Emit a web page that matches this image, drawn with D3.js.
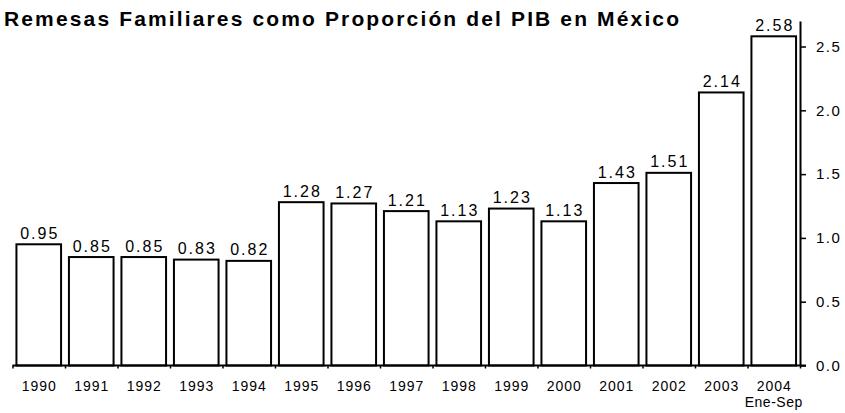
<!DOCTYPE html>
<html>
<head>
<meta charset="utf-8">
<script src="https://cdn.jsdelivr.net/npm/d3@7/dist/d3.min.js"></script>
<style>
    body { margin: 0; background: #fff; }
    svg { display: block; font-family: "Liberation Sans", Arial, sans-serif; }
</style>
</head>
<body>
<div id="chart"></div>
<script>
var years = ['1990', '1991', '1992', '1993', '1994', '1995', '1996', '1997', '1998', '1999', '2000', '2001', '2002', '2003', '2004'];
var remesas = [0.95, 0.85, 0.85, 0.83, 0.82, 1.28, 1.27, 1.21, 1.13, 1.23, 1.13, 1.43, 1.51, 2.14, 2.58];
var yTicks = [0, 0.5, 1.0, 1.5, 2.0, 2.5];
var title = 'Remesas Familiares como Proporción del PIB en México';
var lastNote = 'Ene-Sep';

var width = 845;
var height = 413;
var left = 12.5;
var right = 800;
var base = 365.5;

var svg = d3.select('#chart').append('svg')
    .attr('width', width)
    .attr('height', height);

var x = d3.scaleBand()
    .domain(years)
    .range([left, right])
    .paddingInner(0.15)
    .paddingOuter(0.075);

// category boundaries for the bottom ticks
var edge = d3.scaleLinear()
    .domain([0, years.length])
    .range([left, right]);

var y = d3.scaleLinear()
    .domain([0, 2.7])
    .range([base, 21]);

svg.append('text')
    .attr('x', 4)
    .attr('y', 26)
    .attr('font-size', 21)
    .attr('font-weight', 'bold')
    .attr('textLength', 675)
    .attr('lengthAdjust', 'spacing')
    .text(title);

svg.append('g')
    .selectAll('rect')
    .data(remesas)
    .enter().append('rect')
    .attr('x', function(d, i) { return x(years[i]); })
    .attr('y', function(d) { return y(d); })
    .attr('width', x.bandwidth())
    .attr('height', function(d) { return base - y(d); })
    .attr('fill', '#fff')
    .attr('stroke', '#000')
    .attr('stroke-width', 2);

svg.append('g')
    .selectAll('text')
    .data(remesas)
    .enter().append('text')
    .attr('x', function(d, i) { return x(years[i]) + x.bandwidth() / 2 + 1; })
    .attr('y', function(d) { return y(d) - 5.5; })
    .attr('text-anchor', 'middle')
    .attr('font-size', 16)
    .attr('letter-spacing', 2)
    .text(function(d) { return d.toFixed(2); });

var xAxis = svg.append('g')
    .attr('transform', 'translate(0,' + base + ')')
    .call(d3.axisBottom(edge).tickValues(d3.range(years.length + 1)).tickSize(3).tickFormat(''));
xAxis.select('.domain').attr('d', 'M' + left + ',0H' + (right + 6)).attr('stroke-width', 2);
xAxis.selectAll('.tick line').attr('stroke-width', 1.5);

svg.append('g')
    .selectAll('text')
    .data(years)
    .enter().append('text')
    .attr('x', function(d) { return x(d) + x.bandwidth() / 2 + 0.5; })
    .attr('y', 391)
    .attr('text-anchor', 'middle')
    .attr('font-size', 14)
    .attr('letter-spacing', 1)
    .text(function(d) { return d; });

svg.append('text')
    .attr('x', x(years[years.length - 1]) + x.bandwidth() / 2)
    .attr('y', 407)
    .attr('text-anchor', 'middle')
    .attr('font-size', 14)
    .attr('letter-spacing', 0.5)
    .text(lastNote);

var yAxis = svg.append('g')
    .attr('transform', 'translate(' + right + ',0)')
    .call(d3.axisRight(y).tickValues(yTicks).tickSize(6).tickPadding(10).tickSizeOuter(0)
        .tickFormat(d3.format('.1f')));
yAxis.select('.domain').attr('stroke-width', 2);
yAxis.selectAll('.tick line').attr('stroke-width', 1.5);
yAxis.selectAll('.tick text')
    .attr('font-size', 15)
    .attr('letter-spacing', 1.5)
    .attr('font-family', '"Liberation Sans", Arial, sans-serif')
    .attr('fill', '#000');
</script>
</body>
</html>
